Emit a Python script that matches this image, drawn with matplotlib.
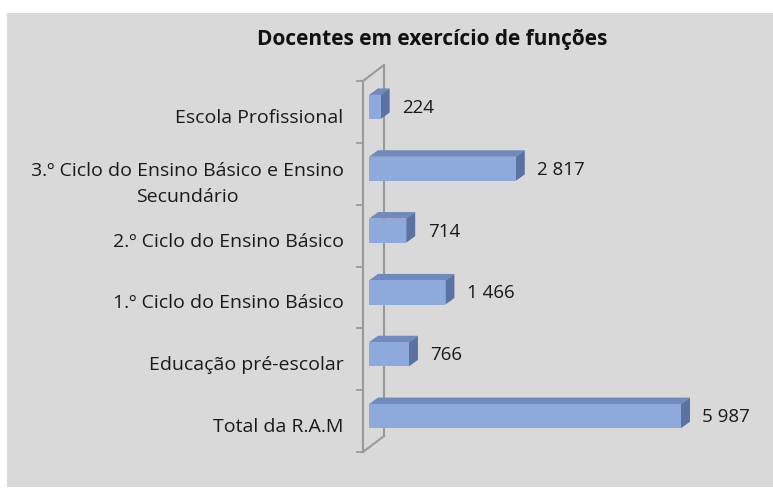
import numpy as np
import matplotlib
matplotlib.use("Agg")
import matplotlib.pyplot as plt
from matplotlib.patches import Polygon, Rectangle
from matplotlib.lines import Line2D
from matplotlib.transforms import ScaledTranslation

categories = ["Total da R.A.M", "Educação pré-escolar", "1.º Ciclo do Ensino Básico",
              "2.º Ciclo do Ensino Básico",
              "3.º Ciclo do Ensino Básico e Ensino\nSecundário", "Escola Profissional"]
values = [5987, 766, 1466, 714, 2817, 224]
value_labels = ["5 987", "766", "1 466", "714", "2 817", "224"]
title = "Docentes em exercício de funções"

W, H = 773, 489
plt.rcParams['font.family'] = ['Open Sans', 'DejaVu Sans']

fig = plt.figure(figsize=(W / 100, H / 100), dpi=100, facecolor="white")
fig.patches.append(Rectangle((7 / W, 1 / H), 766 / W, 474 / H, transform=fig.transFigure,
                             facecolor="#d9d9d9", edgecolor="none", zorder=-5))

ax = fig.add_axes([363 / W, 36 / H, 377 / W, 371 / H])
ax.patch.set_visible(False)
px_per_unit = 312 / 5987
ax.set_xlim(-6 / px_per_unit, (740 - 369) / px_per_unit)
ax.set_ylim(-0.5, 5.5)

for s in ["top", "right", "bottom"]:
    ax.spines[s].set_visible(False)
ax.spines["left"].set_color("#9a9a9a")
ax.spines["left"].set_linewidth(1.5)
ax.set_xticks([])

ypos = np.arange(len(categories))
ax.set_yticks(ypos)
ax.set_yticklabels(categories, fontsize=14, color="#1a1a1a", multialignment="center",
                   linespacing=1.6)
ax.tick_params(axis="y", which="major", length=0, pad=14)
ax.set_yticks(np.arange(-0.5, len(categories)), minor=True)
ax.tick_params(axis="y", which="minor", length=5, width=1.3, color="#9a9a9a", direction="out")
down = ScaledTranslation(0, -3 / 100, fig.dpi_scale_trans)
for lbl in ax.get_yticklabels():
    lbl.set_transform(lbl.get_transform() + down)

def px2data(dx, dy):
    x0, y0 = ax.transData.transform((0, 0))
    x1, y1 = ax.transData.inverted().transform((x0 + dx, y0 + dy))
    return x1, y1

# back wall
xl, _ = ax.get_xlim()
wx, wy = px2data(21, 16)
ax.add_line(Line2D([xl + wx, xl + wx], [-0.5 + wy, 5.5 + wy], color="#9a9a9a", lw=1.5, clip_on=False, zorder=1))
ax.add_line(Line2D([xl, xl + wx], [5.5, 5.5 + wy], color="#9a9a9a", lw=1.5, clip_on=False, zorder=1))
ax.add_line(Line2D([xl, xl + wx], [-0.5, -0.5 + wy], color="#9a9a9a", lw=1.5, clip_on=False, zorder=1))

# bars with depth
h = 0.39
shift = 0.08
dx, dy = px2data(9, 6.5)
front, top, side = "#8eaadc", "#7189bb", "#5b73a2"
for y, v, lab in zip(ypos, values, value_labels):
    yc = y + shift
    b, t = yc - h / 2, yc + h / 2
    ax.add_patch(Polygon([(0, t), (v, t), (v + dx, t + dy), (dx, t + dy)], closed=True,
                         facecolor=top, edgecolor="none", zorder=3, clip_on=False))
    ax.add_patch(Polygon([(v, b), (v + dx, b + dy), (v + dx, t + dy), (v, t)], closed=True,
                         facecolor=side, edgecolor="none", zorder=3, clip_on=False))
    ax.barh(yc, v, height=h, left=0, color=front, edgecolor="none", zorder=4)
    ax.annotate(lab, (v + dx, yc), xytext=(9, 0), textcoords="offset points",
                va="center", ha="left", fontsize=13.5, color="#1a1a1a")

fig.text(432 / W, 1 - 40 / H, title, ha="center", va="center", fontsize=15,
         fontweight="bold", color="#111111")

fig.savefig("out.png", dpi=100, facecolor="white")
